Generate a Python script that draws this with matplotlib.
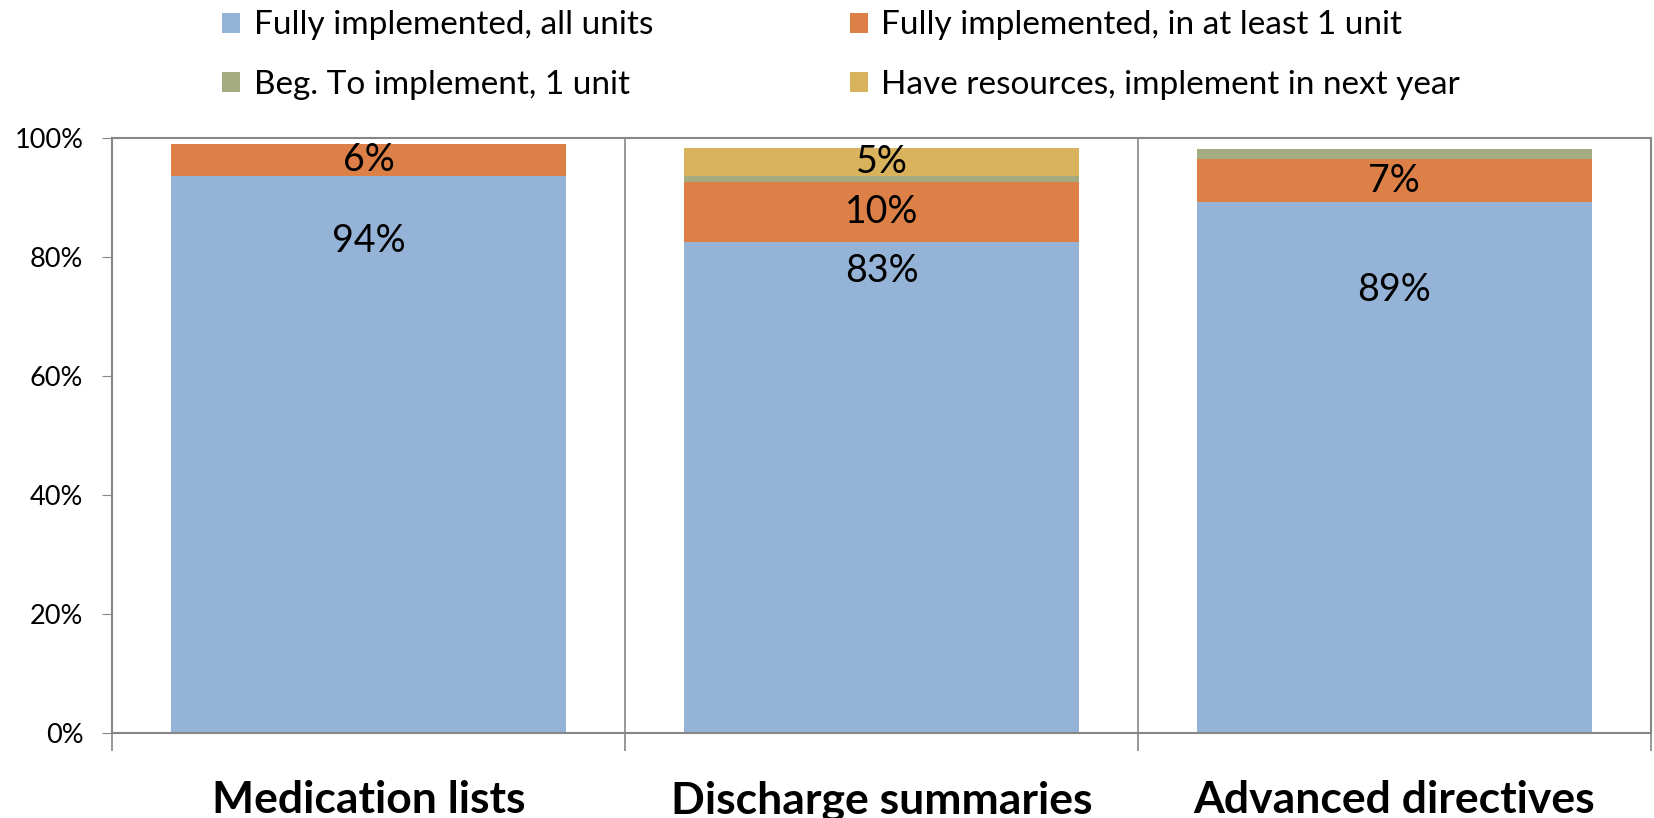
import numpy as np
import matplotlib
matplotlib.use("Agg")
import matplotlib.pyplot as plt

plt.rcParams['font.family'] = ['Lato', 'DejaVu Sans']

categories = ["Medication lists", "Discharge summaries", "Advanced directives"]
series_names = ["Fully implemented, all units", "Fully implemented, in at least 1 unit",
                "Beg. To implement, 1 unit", "Have resources, implement in next year"]
full_all = [93.6, 82.6, 89.2]
full_one = [5.5, 10.1, 7.3]
beg_one = [0.0, 0.9, 1.7]
next_year = [0.0, 4.8, 0.0]
colors = ["#95B3D6", "#DD8047", "#A5AB81", "#D8B25C"]

# labels shown on the chart
blue_labels = ["94%", "83%", "89%"]
blue_label_y = [82.8, 77.7, 74.5]
orange_labels = ["6%", "10%", "7%"]
yellow_labels = ["", "5%", ""]

fig = plt.figure(figsize=(16.54, 8.18), dpi=100)
ax = fig.add_axes([0.068, 0.104, 0.930, 0.727])

x = np.arange(len(categories))
w = 0.77
series = [full_all, full_one, beg_one, next_year]
bottom = np.zeros(len(categories))
bars = []
for vals, col, name in zip(series, colors, series_names):
    b = ax.bar(x, vals, w, bottom=bottom, color=col, label=name, zorder=2)
    bars.append(b)
    bottom += np.array(vals)

# data labels
for i in range(len(categories)):
    ax.text(x[i], blue_label_y[i], blue_labels[i], ha='center', va='center', fontsize=27, zorder=3)
    yo = full_all[i] + full_one[i] / 2
    ax.text(x[i], yo, orange_labels[i], ha='center', va='center', fontsize=27, zorder=3)
    if yellow_labels[i]:
        yy = full_all[i] + full_one[i] + beg_one[i] + next_year[i] / 2
        ax.text(x[i], yy, yellow_labels[i], ha='center', va='center', fontsize=27, zorder=3)

ax.set_xlim(-0.5, 2.5)
ax.set_ylim(0, 100)
ax.set_yticks([0, 20, 40, 60, 80, 100])
ax.set_yticklabels(["0%", "20%", "40%", "60%", "80%", "100%"], fontsize=19.5)
ax.tick_params(axis='y', length=7, color='#868686', pad=14)

ax.set_xticks(x)
ax.set_xticklabels(categories, fontsize=32, fontweight='bold')
ax.tick_params(axis='x', which='major', length=0, pad=34)
ax.set_xticks([-0.5, 0.5, 1.5, 2.5], minor=True)
ax.tick_params(axis='x', which='minor', length=13, color='#868686', width=1.2)

for xb in [0.5, 1.5]:
    ax.axvline(xb, color='#868686', lw=1.2, zorder=1)

for s in ax.spines.values():
    s.set_color('#868686')
    s.set_linewidth(1.5)

# legend filled row by row like the original
order = [0, 2, 1, 3]
fig.legend([bars[k] for k in order], [series_names[k] for k in order],
           loc='upper left', bbox_to_anchor=(0.116, 1.024),
           ncol=2, frameon=False, fontsize=24, handlelength=0.55, handleheight=0.55,
           handletextpad=0.4, labelspacing=0.88, columnspacing=5.9)

fig.savefig("out.png", dpi=100)
